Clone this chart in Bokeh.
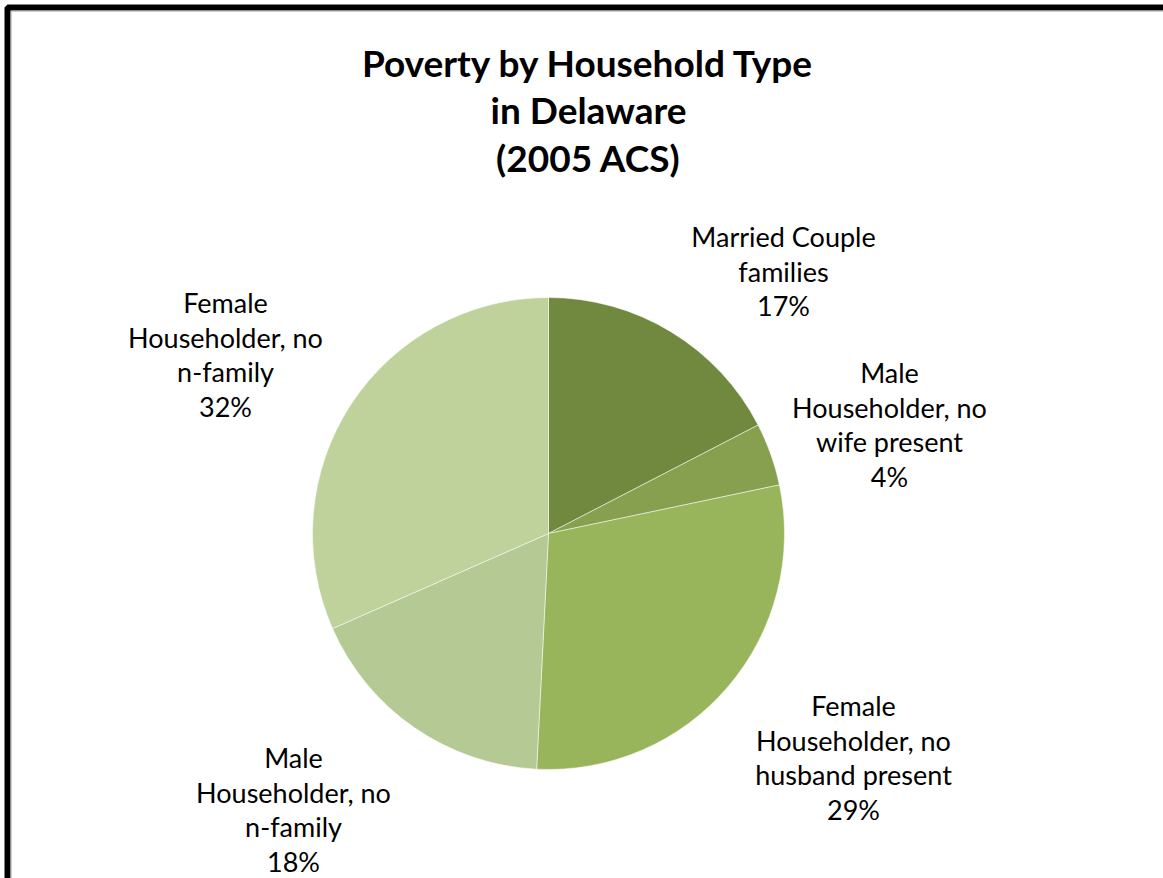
import math
from bokeh.plotting import figure
from bokeh.models import Range1d, ColumnDataSource
from bokeh.core.properties import value
from bokeh.embed import file_html
from bokeh.resources import INLINE

# ---- data ----
categories = [
    "Married Couple\nfamilies",
    "Male\nHouseholder, no\nwife present",
    "Female\nHouseholder, no\nhusband present",
    "Male\nHouseholder, no\nn-family",
    "Female\nHouseholder, no\nn-family",
]
shares = [17.4, 4.3, 29.1, 17.6, 31.6]
colors = ["#71893F", "#87A04F", "#98B55B", "#B4C994", "#C0D29C"]
title_lines = ["Poverty by Household Type", "in Delaware", "(2005 ACS)"]

# ---- layout (pixel coords, y measured from top) ----
W, H = 1163, 878
CX, CY, R = 548, 533, 236
label_pos = [(783, 236), (889, 372), (853, 705), (293, 757), (225, 302)]
line_gap = 34.5

def Y(py):
    return H - py

p = figure(width=W, height=H, output_backend="svg", toolbar_location=None,
           x_range=Range1d(0, W), y_range=Range1d(0, H), min_border=0)
p.axis.visible = False
p.grid.visible = False
p.outline_line_color = None
p.background_fill_color = "white"
p.border_fill_color = "white"

# wedges
total = sum(shares)
starts, ends = [], []
cum = 0.0
for s in shares:
    starts.append(math.pi / 2 - 2 * math.pi * cum / total)
    cum += s
    ends.append(math.pi / 2 - 2 * math.pi * cum / total)
src = ColumnDataSource(dict(x=[CX] * len(shares), y=[Y(CY)] * len(shares),
                            start=starts, end=ends, color=colors))
p.wedge(x="x", y="y", radius=R, start_angle="start", end_angle="end",
        direction="clock", fill_color="color", line_color="white",
        line_alpha=0.5, line_width=1, source=src)

# labels
for cat, s, (lx, ly) in zip(categories, shares, label_pos):
    lines = cat.split("\n") + [f"{round(s)}%"]
    xs = [lx] * len(lines)
    ys = [Y(ly + i * line_gap) for i in range(len(lines))]
    p.text(x=xs, y=ys, text=lines, text_font=value("Lato"),
           text_font_size="27px", text_color="black",
           text_align="center", text_baseline="middle")

# title
ty = [62, 109, 157]
p.text(x=[588] * 3, y=[Y(t) for t in ty], text=title_lines,
       text_font=value("Lato"), text_font_size="37px", text_font_style="bold",
       text_color="black", text_align="center", text_baseline="middle")

# border (only top and left are visible)
p.quad(left=[7], right=[W + 20], top=[Y(7)], bottom=[-20],
       fill_color=None, line_color="black", line_width=6)
p.quad(left=[10.5], right=[W + 20], top=[Y(10.5)], bottom=[-20],
       fill_color=None, line_color="#9a9a9a", line_width=1)

open("out.html", "w").write(file_html(p, INLINE))
